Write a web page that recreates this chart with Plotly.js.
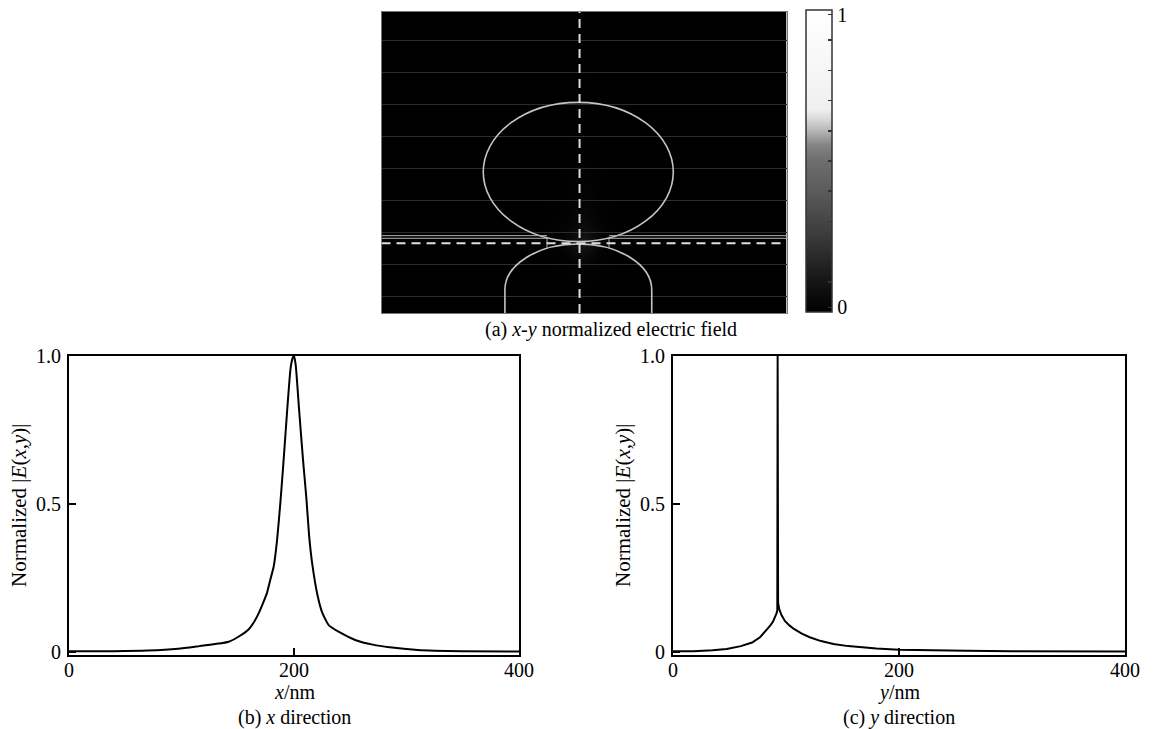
<!DOCTYPE html>
<html>
<head>
<meta charset="utf-8">
<script src="https://cdn.plot.ly/plotly-3.0.1.min.js"></script>
<style>
  html, body { margin: 0; padding: 0; background: #ffffff; }
  #chart { width: 1156px; height: 729px; }
</style>
</head>
<body>
<div id="chart"></div>
<script>
// ---------- (b) profile along x (through the gap) ----------
const bX = [0, 40, 70, 97, 116, 130, 142, 152, 160, 165, 169, 173, 176, 179, 182, 185, 188, 191, 194, 197, 199, 200, 201.5, 204.5, 208, 211, 213.5, 216.5, 221, 225, 231, 240, 255, 270, 285, 310, 350, 400];
const bE = [0.003, 0.003, 0.005, 0.011, 0.02, 0.027, 0.035, 0.055, 0.078, 0.105, 0.134, 0.17, 0.2, 0.245, 0.29, 0.38, 0.51, 0.66, 0.82, 0.96, 0.995, 1.0, 0.97, 0.82, 0.65, 0.52, 0.39, 0.29, 0.19, 0.134, 0.09, 0.068, 0.04, 0.025, 0.016, 0.007, 0.003, 0.002];

// ---------- (c) profile along y (through the gap) ----------
const cY = [0, 18, 35, 47.5, 60, 70, 77, 82, 86, 88.5, 90.3, 91.5, 92.3, 92.6, 93, 94, 96, 99, 103, 107, 114, 121, 131, 142, 155, 166, 180, 200, 230, 260, 300, 350, 400];
const cE = [0.003, 0.003, 0.006, 0.01, 0.02, 0.032, 0.05, 0.07, 0.089, 0.103, 0.117, 0.13, 0.14, 1.0, 0.168, 0.145, 0.125, 0.105, 0.09, 0.078, 0.062, 0.05, 0.037, 0.027, 0.02, 0.016, 0.012, 0.008, 0.005, 0.004, 0.003, 0.002, 0.002];

// ---------- tick labels ----------
const xTickVals = [0, 200, 400];
const xTickText = ['0', '200', '400'];
const yTickVals = [0, 0.5, 1];
const yTickText = ['0', '0.5', '1.0'];
const cbTickVals = [0.015, 0.1, 0.2, 0.3, 0.4, 0.5, 0.6, 0.7, 0.8, 0.9, 0.985];
const cbTickText = ['0', '', '', '', '', '', '', '', '', '', '1'];

// ---------- geometry of map (a), in nm ----------
const upperParticle = [100.5, 288.2, 94.8, 279.5];      // x0, x1, y0, y1 of ellipse
const lowerParticle = [194.4, 72.5, 30.5, 91.5];        // centre x, half width, shoulder y, top y
const substrateY = [99.1, 102.6];                        // thin layer lines
const gapEdges = [163.5, 224.7, 85.8, 101.2];           // x left, x right, y bottom, y top
const cutX = 195.6, cutY = 92.5;                         // dashed cut lines

// 2D field map built from the two measured line profiles
const mapZ = cE.map(ey => bE.map(ex => ey * ex));

const serif = "Liberation Serif, Tinos, Times New Roman, Times, Nimbus Roman, FreeSerif, Noto Serif, DejaVu Serif, serif";
const W = 1156, H = 729;
const px = v => v / W, py = v => 1 - v / H;

const grayScale = [
  [0, '#000000'], [0.1, '#151515'], [0.25, '#3a3a3a'], [0.4, '#5b5b5b'],
  [0.5, '#6e6e6e'], [0.55, '#828282'], [0.6, '#b5b5b5'], [0.64, '#dadada'],
  [0.67, '#efefef'], [0.8, '#f6f6f6'], [1, '#ffffff']
];

const traces = [
  {
    type: 'heatmap', x: bX, y: cY, z: mapZ, xaxis: 'x', yaxis: 'y',
    zmin: 0, zmax: 1, zsmooth: 'best', colorscale: grayScale, hoverinfo: 'skip',
    colorbar: {
      x: px(806), xanchor: 'left', xpad: 0, y: py(10), yanchor: 'top', ypad: 0,
      len: 302 / H, lenmode: 'fraction', thickness: 26, thicknessmode: 'pixels',
      outlinewidth: 1.5, outlinecolor: '#333',
      tickmode: 'array', tickvals: cbTickVals, ticktext: cbTickText,
      ticks: 'inside', ticklen: 4, tickwidth: 1.5, tickcolor: '#333',
      ticklabeloverflow: 'allow',
      tickfont: { family: serif, size: 20, color: '#000' }
    }
  },
  { type: 'scatter', mode: 'lines', x: bX, y: bE, xaxis: 'x2', yaxis: 'y2',
    line: { color: '#000', width: 2, shape: 'spline', smoothing: 0.5 }, hoverinfo: 'skip' },
  { type: 'scatter', mode: 'lines', x: cY, y: cE, xaxis: 'x3', yaxis: 'y3',
    line: { color: '#000', width: 2 }, hoverinfo: 'skip' },
  { type: 'scatter', mode: 'lines', x: [], y: [], xaxis: 'x4', yaxis: 'y4', hoverinfo: 'skip' }
];

const lineAxis = (domain, anchor, extra) => Object.assign({
  domain: domain, anchor: anchor, showline: true, linewidth: 2, linecolor: '#000', mirror: true,
  ticks: 'inside', ticklen: 7, tickwidth: 2, tickcolor: '#000', showgrid: false, zeroline: false,
  tickfont: { family: serif, size: 20, color: '#000' }, tickmode: 'array'
}, extra);

const mapXDomain = [px(381.5), px(786.5)];
const mapYDomain = [py(313), py(11.5)];
const plotsY = [py(655), py(356)];

// lower particle outline path (rounded top, straight sides)
const [lcx, lhw, lsh, ltop] = lowerParticle;
const k = 0.5523, lry = ltop - lsh;
const lowerPath = `M ${lcx - lhw},0 L ${lcx - lhw},${lsh} C ${lcx - lhw},${lsh + k * lry} ${lcx - k * lhw},${ltop} ${lcx},${ltop} ` +
  `C ${lcx + k * lhw},${ltop} ${lcx + lhw},${lsh + k * lry} ${lcx + lhw},${lsh} L ${lcx + lhw},0`;

const outline = { color: '#c4c4c4', width: 1.6 };
const thin = { color: '#b0b0b0', width: 1 };
const dashed = { color: '#dedede', width: 2, dash: '9px,6px' };
const shp = (o) => Object.assign({ xref: 'x', yref: 'y', layer: 'above' }, o);

const shapes = [
  shp({ type: 'circle', x0: upperParticle[0], x1: upperParticle[1], y0: upperParticle[2], y1: upperParticle[3], line: outline }),
  shp({ type: 'path', path: lowerPath, line: outline }),
  shp({ type: 'line', x0: 0, x1: gapEdges[0], y0: substrateY[0], y1: substrateY[0], line: thin }),
  shp({ type: 'line', x0: 0, x1: gapEdges[0], y0: substrateY[1], y1: substrateY[1], line: thin }),
  shp({ type: 'line', x0: gapEdges[1], x1: 400, y0: substrateY[0], y1: substrateY[0], line: thin }),
  shp({ type: 'line', x0: gapEdges[1], x1: 400, y0: substrateY[1], y1: substrateY[1], line: thin }),
  shp({ type: 'line', x0: gapEdges[0], x1: gapEdges[0], y0: gapEdges[2], y1: gapEdges[3], line: thin }),
  shp({ type: 'line', x0: gapEdges[1], x1: gapEdges[1], y0: gapEdges[2], y1: gapEdges[3], line: thin }),
  shp({ type: 'line', x0: cutX, x1: cutX, y0: 0, y1: 400, line: dashed }),
  shp({ type: 'line', x0: 0, x1: 400, y0: cutY, y1: cutY, line: dashed })
];

const ann = (text, x, y, extra) => Object.assign({
  text: text, xref: 'paper', yref: 'paper', x: x, y: y, xanchor: 'center', yanchor: 'middle',
  showarrow: false, font: { family: serif, size: 20, color: '#000' }
}, extra);

const yTitle = 'Normalized |<i>E</i>(<i>x</i>,<i>y</i>)|';

const layout = {
  width: W, height: H,
  margin: { l: 0, r: 0, t: 0, b: 0 },
  paper_bgcolor: '#ffffff', plot_bgcolor: 'rgba(0,0,0,0)',
  showlegend: false,
  font: { family: serif, size: 20, color: '#000' },
  xaxis: { domain: mapXDomain, anchor: 'y', range: [0, 400], showgrid: false, zeroline: false,
    showticklabels: false, ticks: '', showline: true, mirror: true, linecolor: '#777', linewidth: 1 },
  yaxis: { domain: mapYDomain, anchor: 'x', range: [0, 400], showgrid: false, zeroline: false,
    showticklabels: false, ticks: '', showline: true, mirror: true, linecolor: '#777', linewidth: 1 },
  xaxis4: { domain: mapXDomain, anchor: 'y4', range: [0, 400], showgrid: false, zeroline: false,
    showticklabels: false, ticks: '', showline: false },
  yaxis4: { domain: mapYDomain, anchor: 'x4', range: [0, 400], showgrid: true, gridcolor: '#2c2c2c', gridwidth: 1,
    tickmode: 'linear', tick0: 22.5, dtick: 42.35, zeroline: false, showticklabels: false, ticks: '', showline: false },
  xaxis2: lineAxis([px(69), px(519)], 'y2', { range: [0, 400], tickvals: xTickVals, ticktext: xTickText, ticklabelstandoff: -4 }),
  yaxis2: lineAxis(plotsY, 'x2', { range: [-0.01, 1.0], tickvals: yTickVals, ticktext: yTickText, ticklabelstandoff: 2 }),
  xaxis3: lineAxis([px(673), px(1125)], 'y3', { range: [0, 400], tickvals: xTickVals, ticktext: xTickText, ticklabelstandoff: -4 }),
  yaxis3: lineAxis(plotsY, 'x3', { range: [-0.01, 1.0], tickvals: yTickVals, ticktext: yTickText, ticklabelstandoff: 2 }),
  shapes: shapes,
  annotations: [
    ann('(a) <i>x</i>-<i>y</i> normalized electric field', px(611), py(330)),
    ann('<i>x</i>/nm', px(294), py(692)),
    ann('(b) <i>x</i> direction', px(294), py(717)),
    ann('<i>y</i>/nm', px(899), py(692)),
    ann('(c) <i>y</i> direction', px(899), py(717)),
    ann(yTitle, px(19), py(505), { textangle: -90, font: { family: serif, size: 21, color: '#000' } }),
    ann(yTitle, px(623), py(505), { textangle: -90, font: { family: serif, size: 21, color: '#000' } })
  ]
};

Plotly.newPlot('chart', traces, layout, { displayModeBar: false, staticPlot: true });
</script>
</body>
</html>
